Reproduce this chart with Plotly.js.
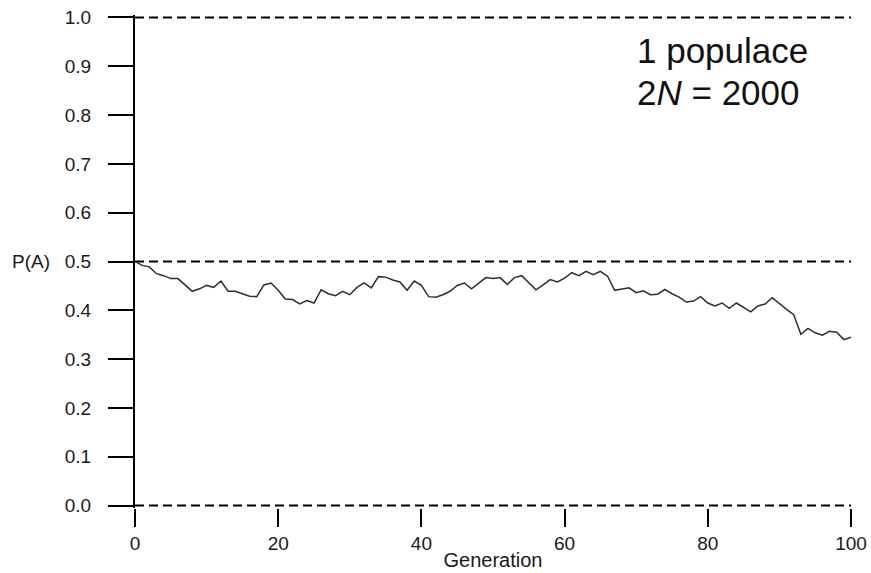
<!DOCTYPE html>
<html>
<head>
<meta charset="utf-8">
<script src="https://cdn.plot.ly/plotly-3.0.1.min.js"></script>
<style>
  html, body { margin: 0; padding: 0; background: #ffffff; }
  #chart { width: 871px; height: 573px; }
</style>
</head>
<body>
<div id="chart"></div>
<script>
// Generation index
const generations = [
  0, 1, 2, 3, 4, 5, 6, 7, 8, 9,
  10, 11, 12, 13, 14, 15, 16, 17, 18, 19,
  20, 21, 22, 23, 24, 25, 26, 27, 28, 29,
  30, 31, 32, 33, 34, 35, 36, 37, 38, 39,
  40, 41, 42, 43, 44, 45, 46, 47, 48, 49,
  50, 51, 52, 53, 54, 55, 56, 57, 58, 59,
  60, 61, 62, 63, 64, 65, 66, 67, 68, 69,
  70, 71, 72, 73, 74, 75, 76, 77, 78, 79,
  80, 81, 82, 83, 84, 85, 86, 87, 88, 89,
  90, 91, 92, 93, 94, 95, 96, 97, 98, 99,
  100
];

// Allele frequency P(A) per generation
const pA = [
  0.500, 0.492, 0.489, 0.475, 0.471, 0.465, 0.465, 0.451, 0.439, 0.444,
  0.451, 0.447, 0.460, 0.439, 0.439, 0.434, 0.429, 0.428, 0.452, 0.456,
  0.441, 0.423, 0.422, 0.413, 0.420, 0.415, 0.442, 0.434, 0.430, 0.439,
  0.432, 0.447, 0.456, 0.446, 0.469, 0.468, 0.462, 0.458, 0.441, 0.460,
  0.451, 0.428, 0.427, 0.432, 0.439, 0.451, 0.456, 0.444, 0.456, 0.467,
  0.465, 0.467, 0.453, 0.467, 0.471, 0.456, 0.442, 0.452, 0.463, 0.458,
  0.466, 0.477, 0.471, 0.480, 0.473, 0.480, 0.470, 0.441, 0.444, 0.446,
  0.436, 0.440, 0.432, 0.433, 0.443, 0.434, 0.427, 0.417, 0.419, 0.428,
  0.415, 0.409, 0.415, 0.404, 0.415, 0.406, 0.397, 0.409, 0.413, 0.426,
  0.413, 0.402, 0.391, 0.351, 0.363, 0.354, 0.349, 0.357, 0.355, 0.340,
  0.345
];

// Reference (dashed) levels
const refLevels = [0.0, 0.5, 1.0];
const refX = [0, 100];

// Tick labels
const yTickVals = [0, 0.1, 0.2, 0.3, 0.4, 0.5, 0.6, 0.7, 0.8, 0.9, 1.0];
const yTickText = ["0.0", "0.1", "0.2", "0.3", "0.4", "0.5", "0.6", "0.7", "0.8", "0.9", "1.0"];
const xTickVals = [0, 20, 40, 60, 80, 100];

// Inset text lines
const insetLines = ["1 populace", "2<i>N</i> = 2000"];

const FONT = "Liberation Sans, Arial, Helvetica, sans-serif";

const traces = refLevels.map(function (lv) {
  return {
    x: refX,
    y: [lv, lv],
    mode: "lines",
    line: { color: "#000000", width: 2, dash: "9px,5px" },
    hoverinfo: "skip",
    showlegend: false
  };
});

traces.push({
  x: generations,
  y: pA,
  mode: "lines",
  line: { color: "#2e2e2e", width: 1.5 },
  showlegend: false
});

const insetY = [0.928, 0.843];

const layout = {
  width: 871,
  height: 573,
  margin: { l: 135, r: 20, t: 15, b: 65 },
  paper_bgcolor: "#ffffff",
  plot_bgcolor: "#ffffff",
  font: { family: FONT, color: "#1a1a1a", size: 19 },
  showlegend: false,
  xaxis: {
    range: [0, 100],
    showgrid: false,
    zeroline: false,
    showline: false,
    ticks: "outside",
    ticklen: 18,
    tickwidth: 2,
    tickcolor: "#000000",
    tickvals: xTickVals,
    tickfont: { family: FONT, size: 19, color: "#1a1a1a" },
    title: { text: "Generation", font: { family: FONT, size: 20, color: "#1a1a1a" }, standoff: 0 }
  },
  yaxis: {
    range: [-0.005, 1.005],
    showgrid: false,
    zeroline: false,
    showline: true,
    linecolor: "#000000",
    linewidth: 2,
    ticks: "outside",
    ticklen: 25,
    tickwidth: 2,
    tickcolor: "#000000",
    tickvals: yTickVals,
    ticktext: yTickText,
    ticklabelstandoff: 13,
    tickfont: { family: FONT, size: 19, color: "#1a1a1a" }
  },
  annotations: [
    {
      xref: "paper", yref: "y",
      x: -0.175, y: 0.5,
      xanchor: "left", yanchor: "middle",
      text: "P(A)",
      showarrow: false,
      font: { family: FONT, size: 19, color: "#1a1a1a" }
    }
  ].concat(insetLines.map(function (t, i) {
    return {
      xref: "paper", yref: "paper",
      x: 0.699, y: insetY[i],
      xanchor: "left", yanchor: "middle",
      align: "left",
      text: t,
      showarrow: false,
      font: { family: FONT, size: 35, color: "#111111" }
    };
  }))
};

Plotly.newPlot("chart", traces, layout, { displayModeBar: false, staticPlot: true });
</script>
</body>
</html>
